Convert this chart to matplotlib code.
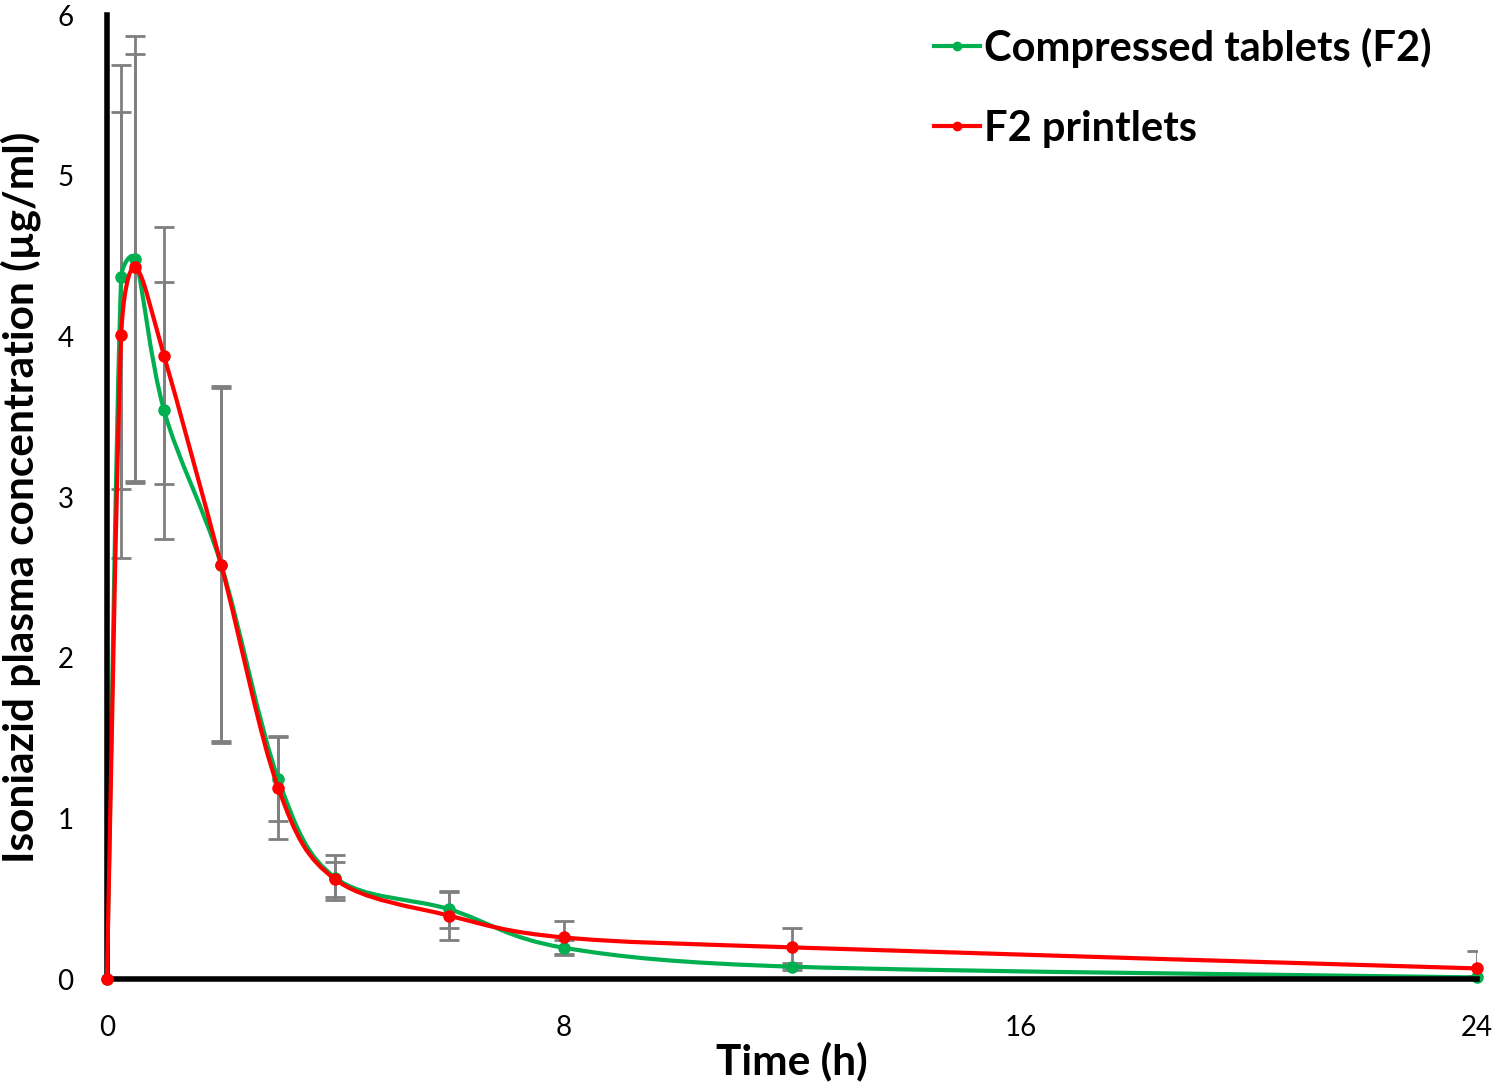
import numpy as np
import matplotlib
matplotlib.use('Agg')
import matplotlib.pyplot as plt
from matplotlib.path import Path
from matplotlib.patches import PathPatch
from matplotlib.lines import Line2D

plt.rcParams['font.family'] = ['Lato', 'DejaVu Sans']

# sampling times (h)
time_h = [0, 0.25, 0.5, 1, 2, 3, 4, 6, 8, 12, 24]

# mean plasma concentration (ug/ml) and SD
tablets_mean = [0, 4.37, 4.48, 3.54, 2.58, 1.245, 0.63, 0.434, 0.195, 0.077, 0.01]
tablets_sd = [0, 1.32, 1.39, 0.80, 1.11, 0.26, 0.14, 0.114, 0.045, 0.02, 0.01]
printlets_mean = [0, 4.01, 4.43, 3.88, 2.58, 1.19, 0.62, 0.394, 0.259, 0.197, 0.066]
printlets_sd = [0, 1.39, 1.33, 0.80, 1.10, 0.32, 0.11, 0.15, 0.104, 0.12, 0.11]

labels = ['Compressed tablets (F2)', 'F2 printlets']
colors = ['#00B050', '#FF0000']

fig = plt.figure(figsize=(15, 10.83), dpi=100)
ax = fig.add_axes([0.0713, 0.096, 0.9134, 0.890])
ax.set_xlim(0, 24)
ax.set_ylim(0, 6)


def smooth_path(ax, xs, ys):
    # Excel-like smoothed line: bezier segments built in display space
    pts = ax.transData.transform(np.column_stack([xs, ys]))
    n = len(pts)
    verts = [pts[0]]
    codes = [Path.MOVETO]
    for i in range(n - 1):
        p0 = pts[max(i - 1, 0)]
        p1 = pts[i]
        p2 = pts[i + 1]
        p3 = pts[min(i + 2, n - 1)]
        seg = np.hypot(*(p2 - p1))
        a1 = (p2 - p0) / 6.0
        a2 = (p3 - p1) / 6.0
        l1 = np.hypot(*a1)
        l2 = np.hypot(*a2)
        if l1 > seg / 2 and l1 > 0:
            a1 = a1 * (seg / 2) / l1
        if l2 > seg / 2 and l2 > 0:
            a2 = a2 * (seg / 2) / l2
        verts += [p1 + a1, p2 - a2, p2]
        codes += [Path.CURVE4] * 3
    verts = ax.transData.inverted().transform(np.array(verts))
    return Path(verts, codes)


series = [(tablets_mean, tablets_sd), (printlets_mean, printlets_sd)]
for k, (m, sd) in enumerate(series):
    ax.errorbar(time_h, m, yerr=sd, fmt='none', ecolor='#7f7f7f',
                elinewidth=2, capsize=7, capthick=2, zorder=1, clip_on=True)

for k, (m, sd) in enumerate(series):
    path = smooth_path(ax, time_h, m)
    ax.add_patch(PathPatch(path, facecolor='none', edgecolor=colors[k],
                           lw=3, zorder=2 + k, clip_on=False))
    ax.plot(time_h, m, 'o', color=colors[k], ms=8, zorder=2.5 + k, clip_on=False)

handles = [Line2D([], [], color=c, lw=3, marker='o', ms=6) for c in colors]
ax.legend(handles, labels, loc='upper left', bbox_to_anchor=(0.604, 0.987),
          frameon=False, handlelength=1.1, handletextpad=0.1,
          labelspacing=1.0, borderpad=0, borderaxespad=0,
          prop={'weight': 'bold', 'size': 30})

for s in ['top', 'right']:
    ax.spines[s].set_visible(False)
ax.spines['left'].set_linewidth(4)
ax.spines['bottom'].set_linewidth(4)

ax.set_xticks([0, 8, 16, 24])
ax.set_yticks([0, 1, 2, 3, 4, 5, 6])
ax.tick_params(axis='both', length=0, labelsize=20)
ax.tick_params(axis='y', pad=24)
ax.tick_params(axis='x', pad=26)

ax.set_xlabel('Time (h)', fontsize=30.5, fontweight='bold', labelpad=0)
ax.set_ylabel('Isoniazid plasma concentration (µg/ml)', fontsize=30.5,
              fontweight='bold', labelpad=12)

fig.savefig('out.png', dpi=100)
